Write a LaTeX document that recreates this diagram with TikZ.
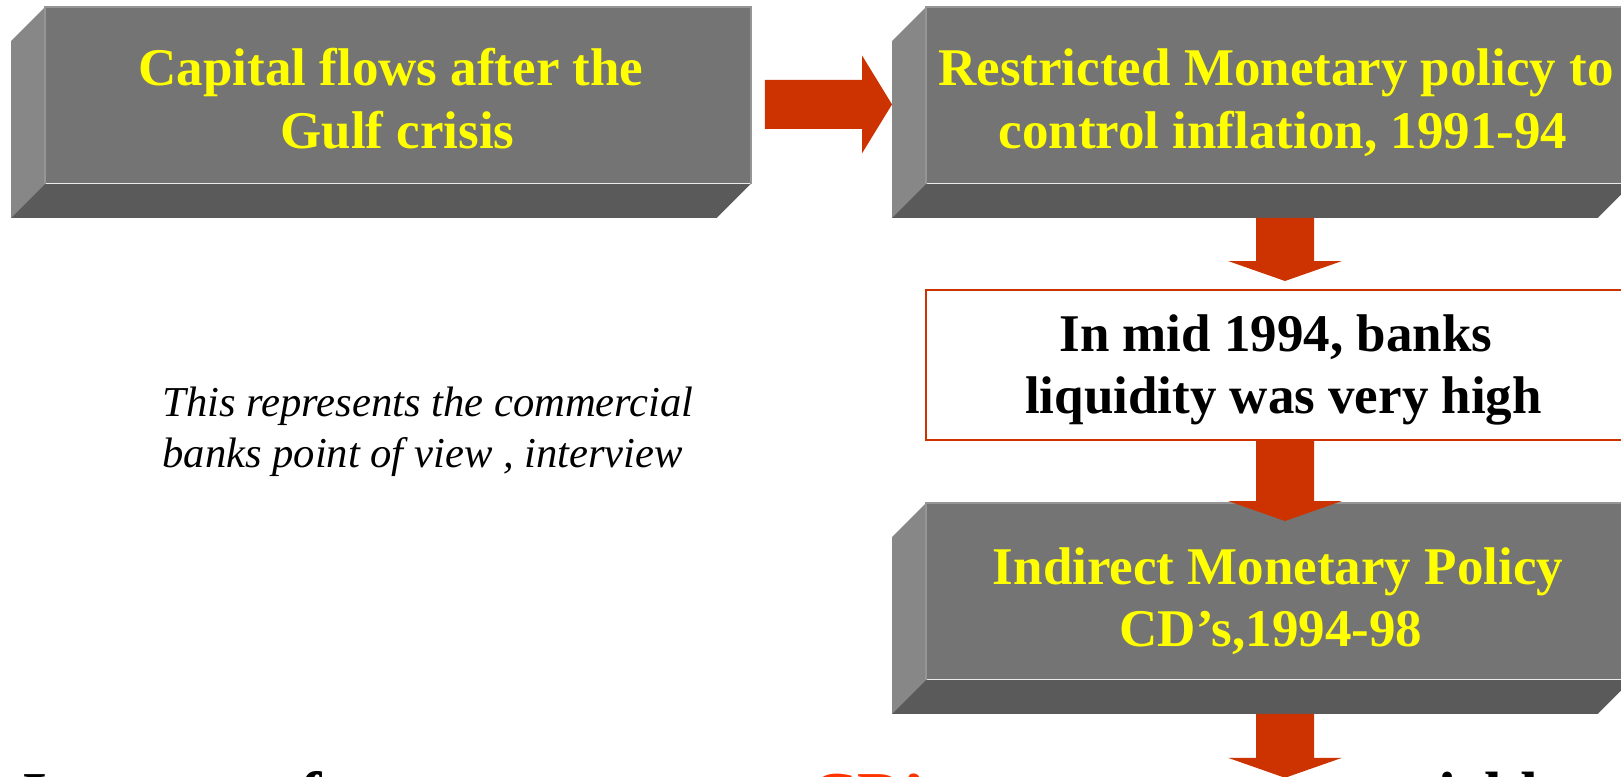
\documentclass[tikz,border=0pt]{standalone}
\usepackage{fontspec}
\setmainfont{Liberation Serif}
\usetikzlibrary{calc}

\definecolor{faceGrey}{HTML}{747474}
\definecolor{sideGrey}{HTML}{878787}
\definecolor{baseGrey}{HTML}{5A5A5A}
\definecolor{edgeGrey}{HTML}{959595}
\definecolor{arrowRed}{HTML}{CC3300}
\definecolor{textYellow}{HTML}{FFFF00}
\definecolor{cdRed}{HTML}{FF3300}

% 3-D slab: front face node plus a left side and a bottom face
\newcommand\drawslab[3]{%
  \node[slabface] (#1) at (#2,#3) {};
  \fill[sideGrey] (#1.north west) -- ++(-34,34) -- ($(#1.south west)+(-34,34)$) -- (#1.south west) -- cycle;
  \fill[baseGrey] (#1.south west) -- (#1.south east) -- ++(-34,34) -- ($(#1.south west)+(-34,34)$) -- cycle;
  \draw[edgeGrey, line width=0.75pt] (#1.south west) -- (#1.north west) -- (#1.north east) -- (#1.south east);
}

% broad downward block arrow from shaft top #1 to tip #2
\newcommand\fatdown[2]{%
  \fill[arrowRed] ($(#1)+(-29,0)$) -- ($(#2)+(-29,-20)$) -- ($(#2)+(-57,-20)$) -- (#2)
    -- ($(#2)+(57,-20)$) -- ($(#2)+(29,-20)$) -- ($(#1)+(29,0)$) -- cycle;
}

\tikzset{
  slabface/.style={fill=faceGrey, draw=none, minimum width=352.5pt, minimum height=88pt,
    inner sep=0pt, anchor=north west},
  notebox/.style={fill=white, draw=arrowRed, line width=1pt, minimum width=353pt,
    minimum height=75pt, inner sep=0pt, anchor=north west},
  slabtext/.style={font=\fontsize{26.5}{31}\selectfont\bfseries, text=textYellow,
    inner sep=0pt, anchor=base},
  notetext/.style={font=\fontsize{26.5}{31}\selectfont\bfseries, text=black,
    inner sep=0pt, anchor=base},
  remark/.style={font=\fontsize{21.3}{26}\selectfont\itshape, text=black,
    inner sep=0pt, anchor=base west},
  headline/.style={font=\fontsize{32}{38}\selectfont\bfseries, text=black,
    inner sep=0pt, anchor=base west},
}

\begin{document}
\begin{tikzpicture}[x=0.5pt, y=-0.5pt]
\useasboundingbox (0,0) rectangle (1621,776);
\clip (0,0) rectangle (1621,776);
\fill[white] (0,0) rectangle (1621,776);

% slabs of the top row
\drawslab{b1}{45}{7}
\drawslab{b2}{926}{7}

\coordinate (axis) at (1285,0);

% liquidity note
\node[notebox] (liq) at (925,289) {};

% arrow from the policy slab to the note
\coordinate (a1s) at ($(b2.south -| axis)+(0,34)$);
\coordinate (a1t) at ($(liq.north -| axis)+(0,-8)$);
\fatdown{a1s}{a1t}

% slab of the indirect policy
\drawslab{b3}{926}{503}

% arrow from the note into the indirect policy slab
\coordinate (a2s) at (liq.south -| axis);
\coordinate (a2t) at ($(b3.north -| axis)+(0,18)$);
\fatdown{a2s}{a2t}

% arrow leaving the indirect policy slab
\coordinate (a3s) at ($(b3.south -| axis)+(0,34)$);
\coordinate (a3t) at ($(b3.south -| axis)+(0,98)$);
\fatdown{a3s}{a3t}

% horizontal arrow between the two top slabs
\coordinate (h1s) at ($(b1.east)+(14,9)$);
\coordinate (h1t) at ($(b2.west)+(-34,9)$);
\fill[arrowRed] ($(h1s)+(0,-24.5)$) -- ($(h1t)+(-30,-24.5)$) -- ($(h1t)+(-30,-49)$) -- (h1t)
  -- ($(h1t)+(-30,49)$) -- ($(h1t)+(-30,24.5)$) -- ($(h1s)+(0,24.5)$) -- cycle;

% slab labels
\node[slabtext] (t1a) at (391,85) {Capital flows after the};
\node[slabtext] (t1b) at (397.5,148) {Gulf crisis};
\node[slabtext] (t2a) at (1276,85) {Restricted Monetary policy to};
\node[slabtext] (t2b) at (1283,148) {control inflation, 1991-94};
\node[slabtext] (t3a) at (1278,584) {Indirect Monetary Policy};
\node[slabtext] (t3b) at (1271,646) {CD’s,1994-98};

% note text
\node[notetext] (l1) at (1276,351.5) {In mid 1994, banks};
\node[notetext] (l2) at (1283.5,413.5) {liquidity was very high};

% side remark
\node[remark] (r1) at (162,416) {This represents the commercial};
\node[remark] (r2) at (162,467) {banks point of view , interview};

% headline running off the lower edge
\node[headline] (h1) at (22,816) {Increase of excess reserves};
\node[headline, text=cdRed] (h2) at (811,816) {CD’s};
\node[headline] (h3) at (1096,816) {as a secure yield};
\end{tikzpicture}
\end{document}
